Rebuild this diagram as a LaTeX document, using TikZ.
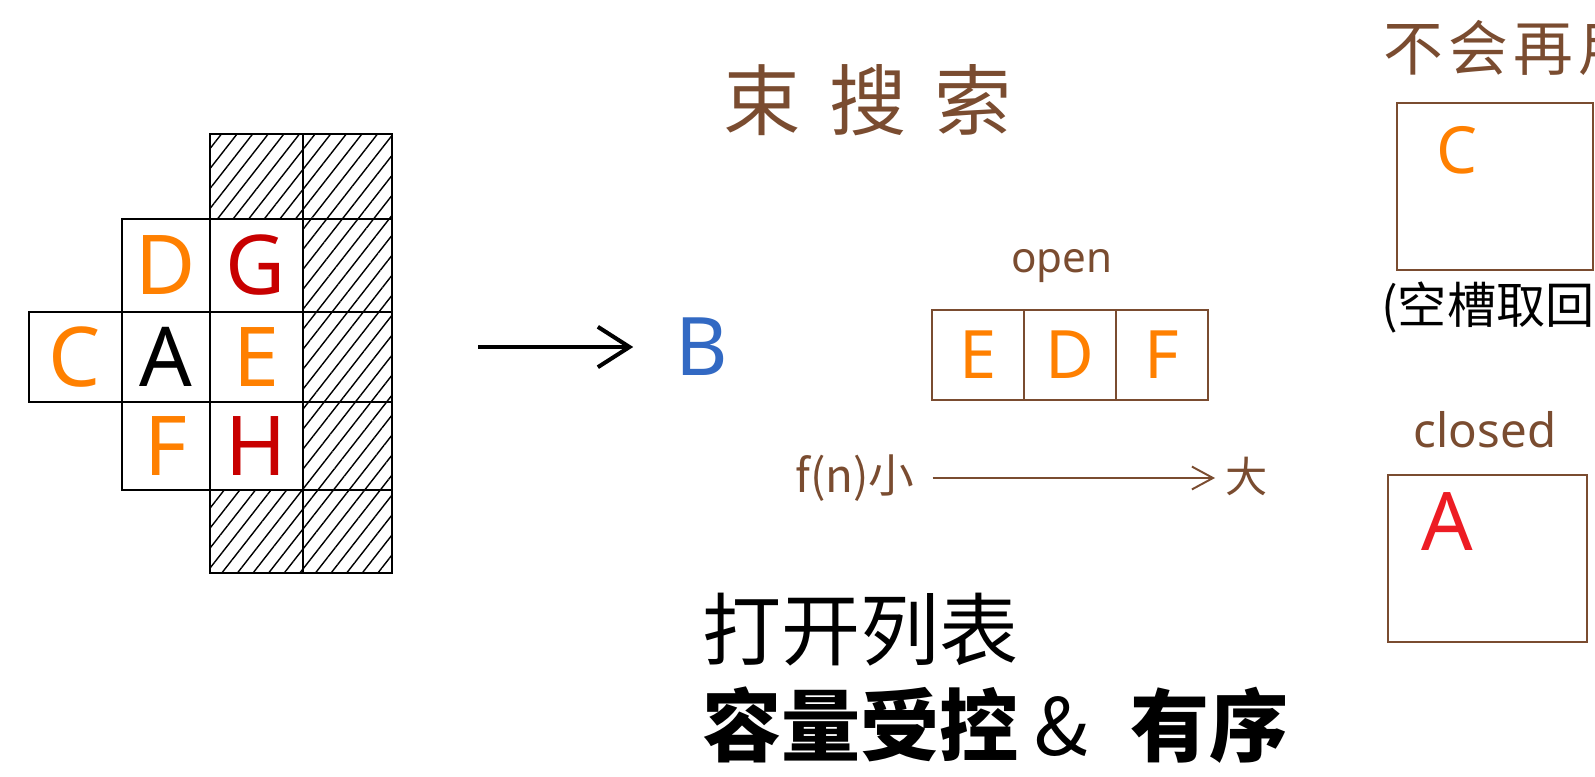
\documentclass[tikz,border=0pt]{standalone}
\usepackage{fontspec}
\setmainfont{Noto Sans}
\newfontfamily\cjk{Noto Sans CJK SC}
\usetikzlibrary{arrows.meta,patterns.meta}
\definecolor{brownink}{RGB}{122,76,48}
\definecolor{orangeink}{RGB}{255,128,0}
\definecolor{darkredink}{RGB}{200,0,0}
\definecolor{redink}{RGB}{237,28,36}
\definecolor{blueink}{RGB}{50,105,195}

\begin{document}
\begin{tikzpicture}[x=0.02cm,y=-0.02cm,
  gridline/.style={line width=1.6pt,black},
  hatchfill/.style={pattern={Lines[angle=52,distance=7pt,line width=0.8pt]}},
  gridletter/.style={font=\fontsize{47}{47}\selectfont,inner sep=0pt},
  opencell/.style={draw=brownink,line width=1.1pt,minimum width=1.84cm,minimum height=1.8cm,inner sep=0pt,font=\fontsize{38}{38}\selectfont,text=orangeink},
  slotbox/.style={draw=brownink,line width=1.1pt,inner sep=0pt},
  handnote/.style={text=brownink,inner sep=0pt}]
\clip (0,0) rectangle (1595,777);
\fill[white] (0,0) rectangle (1595,777);
\fill[hatchfill] (210,134) -- (392,134) -- (392,573) -- (210,573) -- (210,490) -- (303,490) -- (303,219) -- (210,219) -- cycle;
\draw[gridline] (210,134) rectangle (303,219) (303,134) rectangle (392,219);
\draw[gridline] (122,219) rectangle (210,312) (210,219) rectangle (303,312) (303,219) rectangle (392,312);
\draw[gridline] (29,312) rectangle (122,402) (122,312) rectangle (210,402) (210,312) rectangle (303,402) (303,312) rectangle (392,402);
\draw[gridline] (122,402) rectangle (210,490) (210,402) rectangle (303,490) (303,402) rectangle (392,490);
\draw[gridline] (210,490) rectangle (303,573) (303,490) rectangle (392,573);
\node[gridletter,text=orangeink] (gC) at (75,357) {C};
\node[gridletter,text=black] (gA) at (166,357) {A};
\node[gridletter,text=orangeink] (gE) at (256,357) {E};
\node[gridletter,text=orangeink] (gD) at (166,265) {D};
\node[gridletter,text=darkredink] (gG) at (256,265) {G};
\node[gridletter,text=orangeink] (gF) at (166,446) {F};
\node[gridletter,text=darkredink] (gH) at (256,446) {H};
\coordinate (arrtail) at (478,347);
\node[font=\fontsize{46}{46}\selectfont,text=blueink,inner sep=0pt] (B) at (702,347) {B};
\draw[line width=2.3pt,shorten >=24pt,-{Straight Barb[length=18pt,width=23pt,line width=2.3pt]}] (arrtail) -- (B.west);
\node[handnote,font=\cjk\fontsize{44}{44}\selectfont] (title) at (868,100) {束\hspace{16pt}搜\hspace{16pt}索};
\node[handnote,font=\fontsize{24}{24}\selectfont] (openlbl) at (1062,266) {open};
\node[opencell] (oE) at (978,355) {E};
\node[opencell] (oD) at (1070,355) {D};
\node[opencell] (oF) at (1162,355) {F};
\node[handnote,font=\cjk\fontsize{26}{26}\selectfont] (fsmall) at (855,478) {f(n)小};
\node[handnote,font=\cjk\fontsize{24}{24}\selectfont] (fbig) at (1247,476) {大};
\draw[brownink,line width=1.1pt,shorten <=10pt,shorten >=6pt,-{Straight Barb[length=12pt,width=13pt,line width=1.1pt]}] (fsmall.east) -- (fsmall.east -| fbig.west);
\node[handnote,font=\cjk\fontsize{34}{34}\selectfont,anchor=west] (noreuse) at (1383,48) {不\hspace{3pt}会\hspace{3pt}再\hspace{3pt}用};
\node[slotbox,minimum width=3.92cm,minimum height=3.34cm] (slotC) at (1495,186.5) {};
\node[font=\fontsize{37}{37}\selectfont,text=orangeink,inner sep=0pt] (sC) at (1457,150) {C};
\node[font=\cjk\fontsize{28}{28}\selectfont,anchor=west,inner sep=0pt] (slotnote) at (1381,308) {(空槽取回)};
\node[handnote,font=\fontsize{27}{27}\selectfont] (closedlbl) at (1485,430) {closed};
\node[slotbox,minimum width=3.98cm,minimum height=3.34cm] (slotA) at (1487.5,558.5) {};
\node[font=\fontsize{46}{46}\selectfont,text=redink,inner sep=0pt] (sA) at (1447,522) {A};
\node[font=\cjk\fontsize{45}{45}\selectfont,anchor=west,inner sep=0pt] (openlist) at (702,630) {打开列表};
\node[font=\cjk\fontsize{45}{45}\selectfont,anchor=west,inner sep=0pt] (props) at (702,725) {\textbf{容量受控}\hspace{9pt}\&\hspace{24pt}\textbf{有序}};
\end{tikzpicture}
\end{document}
